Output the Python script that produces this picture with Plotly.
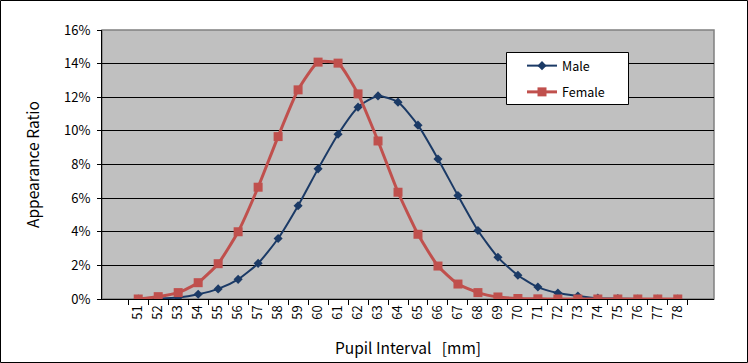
import plotly.graph_objects as go

categories = [str(v) for v in range(51, 79)]
male = [0.00, 0.03, 0.09, 0.28, 0.60, 1.17, 2.12, 3.60, 5.55, 7.74, 9.80, 11.41, 12.08, 11.71,
        10.34, 8.33, 6.15, 4.07, 2.48, 1.41, 0.71, 0.36, 0.18, 0.05, 0.02, 0.00, 0.00, 0.00]
female = [0.00, 0.14, 0.38, 0.97, 2.10, 4.00, 6.65, 9.66, 12.44, 14.09, 14.03, 12.20, 9.40, 6.35,
          3.85, 1.96, 0.89, 0.38, 0.12, 0.03, 0.01, 0.00, 0.00, 0.00, 0.00, 0.00, 0.00, 0.00]
male_frac = [v / 100 for v in male]
female_frac = [v / 100 for v in female]

W, H = 748, 363
L, R, T, B = 102, 34, 30, 64
pw, ph = W - L - R, H - T - B
FONT = "Noto Sans CJK JP"


def xp(px):
    return (px - L) / pw


def yp(py):
    return (H - B - py) / ph


fig = go.Figure()
fig.add_trace(go.Scatter(x=categories, y=male_frac, name="Male", mode="lines+markers",
                         line=dict(color="#1B3A66", width=2, shape="spline", smoothing=0.6),
                         marker=dict(symbol="diamond", size=7, color="#1B3A66"),
                         legendgroup="m"))
fig.add_trace(go.Scatter(x=categories, y=female_frac, name="Female", mode="lines+markers",
                         line=dict(color="#C0504D", width=3, shape="spline", smoothing=0.5),
                         marker=dict(symbol="square", size=9, color="#C0504D"),
                         legendgroup="f"))

# outer border of the whole chart
fig.add_shape(type="rect", xref="paper", yref="paper",
              x0=xp(0.5), x1=xp(W - 0.5), y0=yp(H - 0.5), y1=yp(0.5),
              line=dict(color="black", width=1), layer="below")
# plot frame (grey)
fig.add_shape(type="rect", xref="paper", yref="paper", x0=0, x1=1, y0=0, y1=1,
              line=dict(color="#808080", width=1.5), layer="below")
# legend box
fig.add_shape(type="rect", xref="paper", yref="paper",
              x0=xp(506.5), x1=xp(628.5), y0=yp(104.5), y1=yp(52.5),
              fillcolor="white", line=dict(color="black", width=1), layer="above")

fig.update_layout(
    width=W, height=H,
    margin=dict(l=L, r=R, t=T, b=B, autoexpand=False),
    paper_bgcolor="white", plot_bgcolor="#C0C0C0",
    font=dict(family=FONT, size=12, color="black"),
    showlegend=True,
    legend=dict(x=xp(522), y=yp(51), xanchor="left", yanchor="top",
                bgcolor="rgba(0,0,0,0)", borderwidth=0,
                font=dict(family=FONT, size=12.5), tracegroupgap=7, itemwidth=30),
    xaxis=dict(type="category", tickangle=-90, tickson="boundaries",
               ticks="outside", ticklen=5, tickcolor="black", tickwidth=1,
               showline=True, linecolor="black", linewidth=1, showgrid=False,
               tickfont=dict(family=FONT, size=13),
               title=dict(text="Pupil Interval\u00a0\u00a0\u00a0[mm]", font=dict(family=FONT, size=15.5), standoff=24),
               automargin=False),
    yaxis=dict(range=[0, 0.16], dtick=0.02, tickformat=".0%",
               ticks="outside", ticklen=4, tickcolor="black",
               showline=True, linecolor="black", linewidth=1,
               showgrid=True, gridcolor="black", gridwidth=1, zeroline=False,
               tickfont=dict(family=FONT, size=13), ticklabelstandoff=4,
               title=dict(text="Appearance Ratio", font=dict(family=FONT, size=15.5), standoff=20),
               automargin=False),
)

fig.write_html("out.html", config={"displayModeBar": False},
               post_script="document.body.style.margin='0';")
